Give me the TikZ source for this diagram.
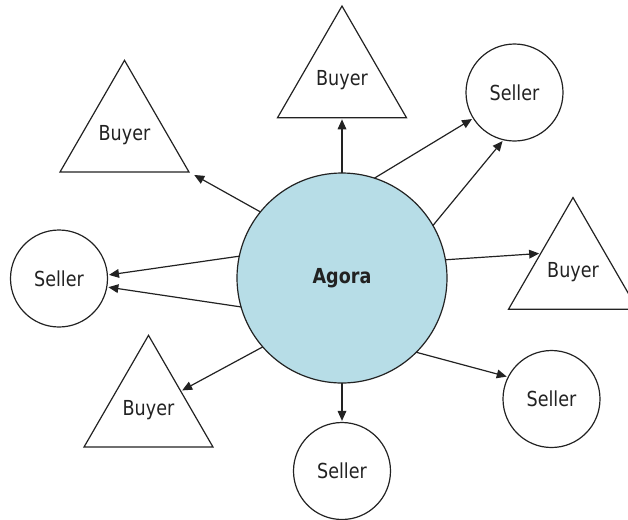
\documentclass[tikz,border=0pt]{standalone}
\usepackage{fontspec}
\setmainfont{DejaVu Sans}[FakeStretch=0.85]
\usetikzlibrary{shapes.geometric,arrows.meta}
\definecolor{ink}{HTML}{222222}
\definecolor{agorablue}{HTML}{B7DDE7}
\tikzset{
  every node/.style={font=\fontsize{15.5}{18}\selectfont, text=ink},
  seller/.style={circle, draw=ink, line width=0.9pt, minimum size=72.75pt, inner sep=0pt, outer sep=0pt},
  buyer/.style={regular polygon, regular polygon sides=3, draw=ink, line width=0.9pt, minimum size=111.7pt, inner sep=0pt, outer sep=0pt},
  hub/.style={circle, draw=ink, line width=0.9pt, fill=agorablue, minimum size=157.5pt, inner sep=0pt, outer sep=0pt, font=\fontsize{15.5}{18}\selectfont\bfseries},
  arr/.style={draw=ink, line width=0.9pt, -{Triangle[length=7.5pt,width=6.5pt]}, shorten >=1.2pt}
}
\begin{document}
\begin{tikzpicture}[x=0.75pt,y=-0.75pt]
\useasboundingbox (0,0) rectangle (628,519);
\clip (0,0) rectangle (628,519);
\node[hub] (agora) at (342,278) {Agora};
\node[buyer] (b1) at (124.5,134.8) {Buyer};
\node[buyer] (b2) at (342,80.5) {Buyer};
\node[buyer] (b3) at (573,272) {Buyer};
\node[buyer] (b4) at (148.5,409.8) {Buyer};
\node[seller] (s1) at (514.5,92.5) {Seller};
\node[seller] (s2) at (59,278.5) {Seller};
\node[seller] (s3) at (551.5,399) {Seller};
\node[seller] (s4) at (342,471) {Seller};
\draw[arr, shorten >=4.5pt] (agora.141) -- (b1.corner 3);
\draw[arr] (agora.90) -- (b2.side 2);
\draw[arr] (agora.72.4) -- (s1.212);
\draw[arr] (agora.30) -- (s1.257);
\draw[arr] (agora.10.9) -- (b3.side 1);
\draw[arr] (agora.168.5) -- (s2.4);
\draw[arr] (agora.196) -- (s2.-10.5);
\draw[arr] (agora.221.9) -- (b4.side 3);
\draw[arr] (agora.-45.8) -- (s3.153.2);
\draw[arr] (agora.270) -- (s4.north);
\end{tikzpicture}
\end{document}
